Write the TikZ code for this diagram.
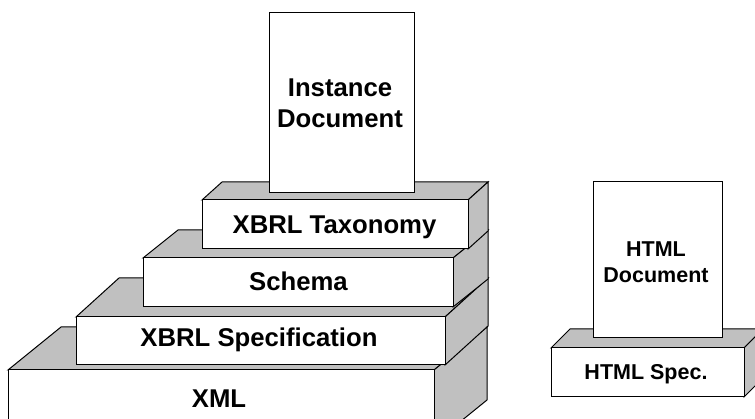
\documentclass[tikz,border=0pt]{standalone}
\usepackage{fontspec}
\setmainfont{Liberation Sans}
\definecolor{slabgray}{RGB}{192,192,192}
\tikzset{
  face/.style={fill=slabgray, draw=black, line width=1pt, line join=miter},
  frontface/.style={fill=white, draw=black, line width=1pt},
  biglbl/.style={font=\fontsize{25.7}{31}\selectfont\bfseries, inner sep=0pt, align=center},
  smalllbl/.style={font=\fontsize{21.5}{26}\selectfont\bfseries, inner sep=0pt, align=center}
}
% name, x1, x2, ytop, ybottom, dx, dy(up)
\newcommand\slabblock[7]{%
  \filldraw[face] (#2,#4) -- (#2+#6,#4-#7) -- (#3+#6,#4-#7) -- (#3,#4) -- cycle;
  \filldraw[face] (#3,#4) -- (#3+#6,#4-#7) -- (#3+#6,#5-#7) -- (#3,#5) -- cycle;
  \filldraw[frontface] (#2,#4) rectangle (#3,#5);
  \coordinate (#1) at ({(#2+#3)/2},{(#4+#5)/2});
}
\begin{document}
\begin{tikzpicture}[x=1pt, y=-1pt]
  \useasboundingbox (0,0) rectangle (755,419);
  \clip (0,0) rectangle (755,419);
  % XBRL stack
  \slabblock{xml}{8}{434}{370}{443}{53}{43}
  \slabblock{spec}{76}{445}{317}{365}{43}{39}
  \slabblock{schema}{143}{453}{258}{307}{35}{28}
  \slabblock{taxo}{202}{468}{200}{249}{20}{18}
  \filldraw[frontface] (269,13) rectangle (414,193);
  \coordinate (inst) at (341.5,103);
  % HTML stack
  \slabblock{htmlspec}{551}{744}{348}{397}{19}{19}
  \filldraw[frontface] (593,182) rectangle (722,338);
  \coordinate (htmldoc) at (657.5,260);
  % labels
  \node[biglbl, anchor=base] (xmltxt) at (219,408) {XML};
  \node[biglbl, anchor=base] (spectxt) at (259,347) {XBRL Specification};
  \node[biglbl, anchor=base] (schematxt) at (298.5,291) {Schema};
  \node[biglbl, anchor=base] (taxotxt) at (334.5,233.3) {XBRL Taxonomy};
  \node[biglbl] (insttxt) at (340,103) {Instance\\Document};
  \node[smalllbl] (htmldoctxt) at (656,262.3) {HTML\\Document};
  \node[smalllbl, anchor=base] (htmlspectxt) at (646,380) {HTML Spec.};
\end{tikzpicture}
\end{document}
